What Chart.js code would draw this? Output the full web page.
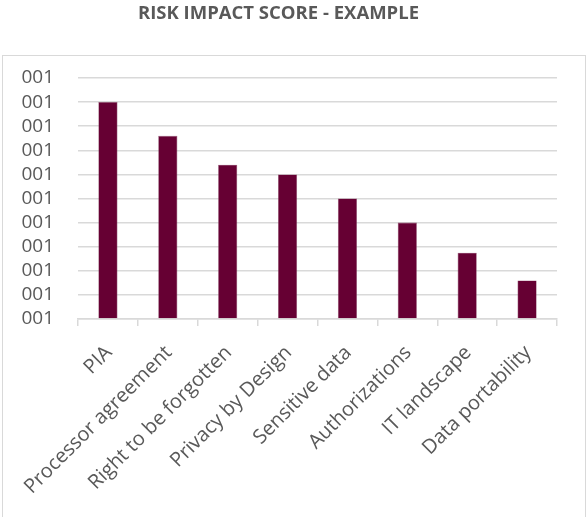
<!DOCTYPE html>
<html>
<head>
<meta charset="utf-8">
<script src="https://cdn.jsdelivr.net/npm/chart.js@4.4.1/dist/chart.umd.min.js"></script>
<style>
  html, body { margin: 0; padding: 0; background: #ffffff; }
  #wrap { position: relative; width: 588px; height: 517px; overflow: hidden; }
  #frame { position: absolute; left: 2px; top: 55px; width: 584px; height: 480px; border: 1.5px solid #d9d9d9; box-sizing: border-box; }
  canvas { position: absolute; left: 0; top: 0; }
</style>
</head>
<body>
<div id="wrap">
  <div id="frame"></div>
  <canvas id="c" width="588" height="517"></canvas>
</div>
<script>
const chartTitle = "RISK IMPACT SCORE - EXAMPLE";
const categories = ["PIA", "Processor agreement", "Right to be forgotten", "Privacy by Design", "Sensitive data", "Authorizations", "IT landscape", "Data portability"];
const scores = [9, 7.6, 6.4, 6, 5, 4, 2.75, 1.6];
const yTickLabels = ["001", "001", "001", "001", "001", "001", "001", "001", "001", "001", "001"];

const grey = "#595959";
const gridGrey = "#d9d9d9";
const fontFamily = "'Open Sans', 'Liberation Sans', sans-serif";

new Chart(document.getElementById("c"), {
  type: "bar",
  data: {
    labels: categories,
    datasets: [{
      data: scores,
      backgroundColor: "#660033",
      borderColor: "#8a4a6a",
      borderWidth: 0.6,
      barPercentage: 0.32,
      categoryPercentage: 1
    }]
  },
  options: {
    responsive: false,
    animation: false,
    devicePixelRatio: 1,
    layout: { padding: { left: 0, right: 31, top: 0, bottom: 0 } },
    plugins: {
      legend: { display: false },
      tooltip: { enabled: false },
      title: {
        display: true,
        text: chartTitle,
        color: grey,
        font: { family: fontFamily, size: 18.5, weight: "bold" },
        padding: { top: 3, bottom: 52.8 }
      }
    },
    scales: {
      x: {
        grid: { display: true, drawOnChartArea: false, drawTicks: true, tickLength: 7, color: gridGrey, lineWidth: 1.5, offset: true },
        border: { display: true, color: gridGrey, width: 1.5 },
        ticks: {
          color: grey,
          font: { family: fontFamily, size: 20 },
          minRotation: 45,
          maxRotation: 45,
          padding: 15,
          labelOffset: 1,
          autoSkip: false
        },
        afterFit: (s) => { s.height = 198; }
      },
      y: {
        min: 0,
        max: 10,
        grid: { color: gridGrey, lineWidth: 1.5, drawTicks: false },
        border: { display: false },
        ticks: {
          stepSize: 1,
          autoSkip: false,
          color: grey,
          font: { family: fontFamily, size: 19 },
          padding: 24,
          callback: (v, i) => yTickLabels[i]
        },
        afterFit: (s) => { s.width = 78; }
      }
    }
  }
});
</script>
</body>
</html>
